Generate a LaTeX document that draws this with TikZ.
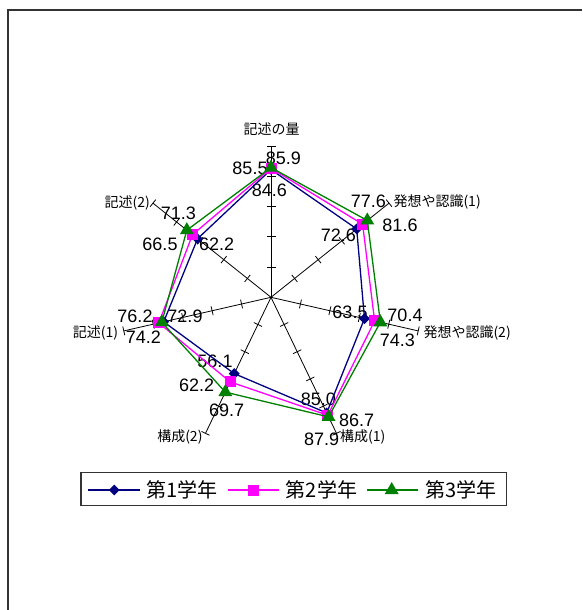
\documentclass[tikz,border=0pt]{standalone}
\usepackage{fontspec}
\setmainfont{Liberation Sans}
\newfontfamily\jpfont{Noto Sans CJK JP}
\usetikzlibrary{shapes.geometric}
\definecolor{nendoA}{RGB}{0,0,128}
\definecolor{nendoB}{RGB}{255,0,255}
\definecolor{nendoC}{RGB}{0,128,0}

\begin{document}
\begin{tikzpicture}[x=1pt,y=1pt,
    axe/.style={line width=0.8pt},
    lineA/.style={nendoA,line width=1.3pt},
    lineB/.style={nendoB,line width=1.3pt},
    lineC/.style={nendoC,line width=1.3pt},
    mkA/.style={diamond,fill=nendoA,inner sep=0pt,minimum size=11pt},
    mkB/.style={rectangle,fill=nendoB,inner sep=0pt,minimum size=11pt},
    mkC/.style={regular polygon,regular polygon sides=3,fill=nendoC,inner sep=0pt,minimum size=16pt},
    val/.style={font=\fontsize{18}{18}\selectfont,inner sep=0pt},
    cat/.style={font=\jpfont\fontsize{14}{14}\selectfont,inner sep=0pt},
    leg/.style={font=\jpfont\fontsize{20}{20}\selectfont,inner sep=0pt,anchor=west}]
        \useasboundingbox (-271,-312.7) rectangle (311,297.3) ;
        % frame
        \draw[line width=1.5pt,black!80] (311,287.3) -- (-263,287.3) -- (-263,-312.7) ;
        % axes with ticks
        \foreach \k in {0,...,6} {
          \coordinate (e\k) at ({90-\k*360/7}:151) ;
          \draw[axe] (0,0) -- (e\k) ;
          \foreach \t in {1,...,5}
            \draw[axe,rotate={90-\k*360/7}] ({30.2*\t},-4.5) -- ({30.2*\t},4.5) ;
        }
        \node[cat] (c0) at (0.7,168) {記述の量} ;
        \node[cat,anchor=west] (c1) at (122.3,95.6) {発想や認識(1)} ;
        \node[cat,anchor=west] (c2) at (152.3,-35.4) {発想や認識(2)} ;
        \node[cat,anchor=west] (c3) at (69,-140) {構成(1)} ;
        \node[cat,anchor=east] (c4) at (-68.3,-140) {構成(2)} ;
        \node[cat,anchor=east] (c5) at (-152.7,-35.4) {記述(1)} ;
        \node[cat,anchor=east] (c6) at (-121,94.6) {記述(2)} ;
        % data labels
        \foreach \p/\txt [count=\n] in {
            {(-1.7,107.3)}/84.6, {(67.3,62.3)}/72.6, {(79,-15.4)}/63.5,
            {(47.3,-102)}/85.0, {(-56,-64.4)}/56.1, {(-86,-18.7)}/72.9,
            {(-54.3,53.3)}/62.2,
            {(-21,129)}/85.5, {(97.3,95.6)}/77.6, {(134,-17.7)}/70.4,
            {(85.7,-123.4)}/86.7, {(-74.3,-87.7)}/62.2, {(-136,-19.4)}/76.2,
            {(-111,53.3)}/66.5,
            {(12.3,139)}/85.9, {(129,72.3)}/81.6, {(126.3,-42.7)}/74.3,
            {(50.7,-142)}/87.9, {(-44.3,-112.7)}/69.7, {(-127.7,-40)}/74.2,
            {(-92.7,84)}/71.3}
          \node[val] (v\n) at \p {\txt} ;
        % series
        \foreach \sr/\vals in {A/{84.6,72.6,63.5,85.0,56.1,72.9,62.2},
                               B/{85.5,77.6,70.4,86.7,62.2,76.2,66.5},
                               C/{85.9,81.6,74.3,87.9,69.7,74.2,71.3}} {
          \foreach \v [count=\i from 0] in \vals
            \coordinate (\sr\i) at ({90-\i*360/7}:{1.51*\v}) ;
          \draw[line\sr] (\sr0) -- (\sr1) -- (\sr2) -- (\sr3) -- (\sr4) -- (\sr5) -- (\sr6) -- cycle ;
          \foreach \i in {0,...,6}
            \node[mk\sr] (m\sr\i) at (\sr\i) {} ;
        }
        % legend
        \draw[line width=1.2pt,black!80] (-190,-175) rectangle (235.7,-208.4) ;
        \draw[lineA] (-182.7,-192.7) -- (-131,-192.7) ;
        \node[mkA] (lmA) at (-156.7,-192.7) {} ;
        \node[leg] (lA) at (-125,-192.7) {第1学年} ;
        \draw[lineB] (-43.3,-192.7) -- (8,-192.7) ;
        \node[mkB] (lmB) at (-17.7,-192.7) {} ;
        \node[leg] (lB) at (14.7,-192.7) {第2学年} ;
        \draw[lineC] (96.3,-192.7) -- (147.3,-192.7) ;
        \node[mkC] (lmC) at (120.7,-192.7) {} ;
        \node[leg] (lC) at (154,-192.7) {第3学年} ;
      \end{tikzpicture}
\end{document}
